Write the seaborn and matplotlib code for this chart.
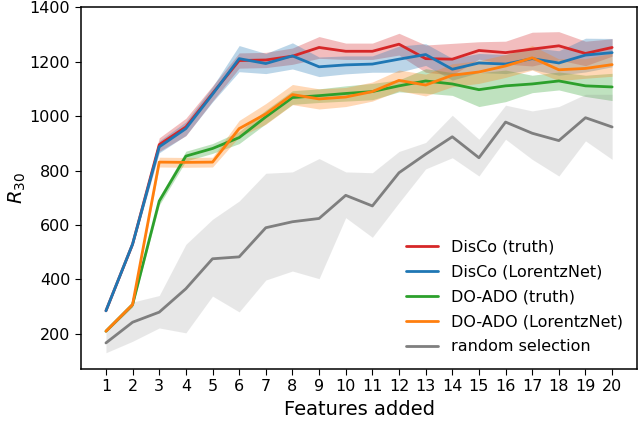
import numpy as np
import pandas as pd
import matplotlib
matplotlib.use("Agg")
import matplotlib.pyplot as plt
import seaborn as sns

# number of features added
features = list(range(1, 21))

# R30 values, band half widths for the trained selectors
disco_truth = [285, 530, 895, 960, 1083, 1204, 1206, 1220, 1252, 1238,
               1238, 1264, 1211, 1209, 1241, 1233, 1246, 1258, 1230, 1252]
disco_truth_hw = [4, 8, 25, 32, 28, 28, 28, 30, 40, 30,
                  30, 40, 50, 58, 32, 42, 62, 52, 45, 32]

disco_lnet = [285, 530, 887, 954, 1080, 1211, 1193, 1221, 1181, 1188,
              1191, 1209, 1226, 1172, 1195, 1191, 1211, 1195, 1224, 1233]
disco_lnet_hw = [4, 8, 22, 25, 28, 48, 37, 48, 36, 33,
                 30, 48, 40, 40, 35, 35, 40, 45, 62, 52]

doado_truth = [210, 308, 688, 853, 881, 921, 997, 1068, 1075, 1083,
               1090, 1111, 1129, 1118, 1097, 1111, 1118, 1129, 1111, 1107]
doado_truth_hw = [4, 8, 15, 18, 18, 22, 25, 25, 25, 28,
                  30, 22, 45, 42, 62, 58, 32, 33, 39, 50]

doado_lnet = [210, 308, 831, 830, 831, 954, 1008, 1079, 1063, 1070,
              1090, 1131, 1114, 1150, 1162, 1184, 1214, 1170, 1175, 1189]
doado_lnet_hw = [4, 8, 18, 18, 18, 30, 38, 37, 37, 35,
                 35, 38, 40, 42, 42, 42, 45, 40, 36, 43]

# random selection: line plus asymmetric band
random_sel = [167, 243, 280, 366, 476, 483, 590, 612, 624, 709,
              670, 792, 860, 924, 847, 978, 937, 910, 994, 960]
random_lo = [131, 173, 222, 204, 339, 281, 398, 431, 403, 627,
             555, 682, 806, 847, 780, 915, 841, 780, 909, 841]
random_hi = [204, 317, 341, 529, 621, 688, 790, 795, 844, 795,
             792, 870, 903, 1003, 915, 1040, 1019, 1035, 1080, 1080]


def band_frame(mid, lo, hi):
    rows = []
    for x, a, b, c in zip(features, lo, mid, hi):
        rows += [(x, a), (x, b), (x, c)]
    return pd.DataFrame(rows, columns=["features", "R30"])


series = [
    ("DisCo (truth)", disco_truth, disco_truth_hw, "#d62728"),
    ("DisCo (LorentzNet)", disco_lnet, disco_lnet_hw, "#1f77b4"),
    ("DO-ADO (truth)", doado_truth, doado_truth_hw, "#2ca02c"),
    ("DO-ADO (LorentzNet)", doado_lnet, doado_lnet_hw, "#ff7f0e"),
]

sns.set_style("ticks")
plt.rcParams["font.family"] = ["DejaVu Sans"]
plt.rcParams["axes.edgecolor"] = "black"
plt.rcParams["text.color"] = "black"
plt.rcParams["axes.labelcolor"] = "black"
plt.rcParams["xtick.color"] = "black"
plt.rcParams["ytick.color"] = "black"

fig, ax = plt.subplots(figsize=(6.4, 4.21), dpi=100)

for name, vals, hw, col in series:
    lo = [v - h for v, h in zip(vals, hw)]
    hi = [v + h for v, h in zip(vals, hw)]
    df = band_frame(vals, lo, hi)
    sns.lineplot(data=df, x="features", y="R30", estimator="median",
                 errorbar=("pi", 100), color=col, label=name, lw=2,
                 err_kws={"alpha": 0.3, "lw": 0}, ax=ax)

df = band_frame(random_sel, random_lo, random_hi)
sns.lineplot(data=df, x="features", y="R30", estimator="median",
             errorbar=("pi", 100), color="#7f7f7f", label="random selection",
             lw=2, err_kws={"alpha": 0.18, "lw": 0}, ax=ax)

ax.set_xticks(features)
ax.set_ylim(72, 1400)
ax.set_xlabel("Features added", fontsize=14)
ax.set_ylabel("$R_{30}$", fontsize=14, labelpad=1)
ax.tick_params(labelsize=11.5, length=4)
for sp in ax.spines.values():
    sp.set_linewidth(1.1)
ax.legend(loc="lower right", frameon=False, fontsize=11.5, labelspacing=0.62)

fig.subplots_adjust(left=0.126, right=0.996, bottom=0.124, top=0.983)
fig.savefig("out.png", dpi=100)
